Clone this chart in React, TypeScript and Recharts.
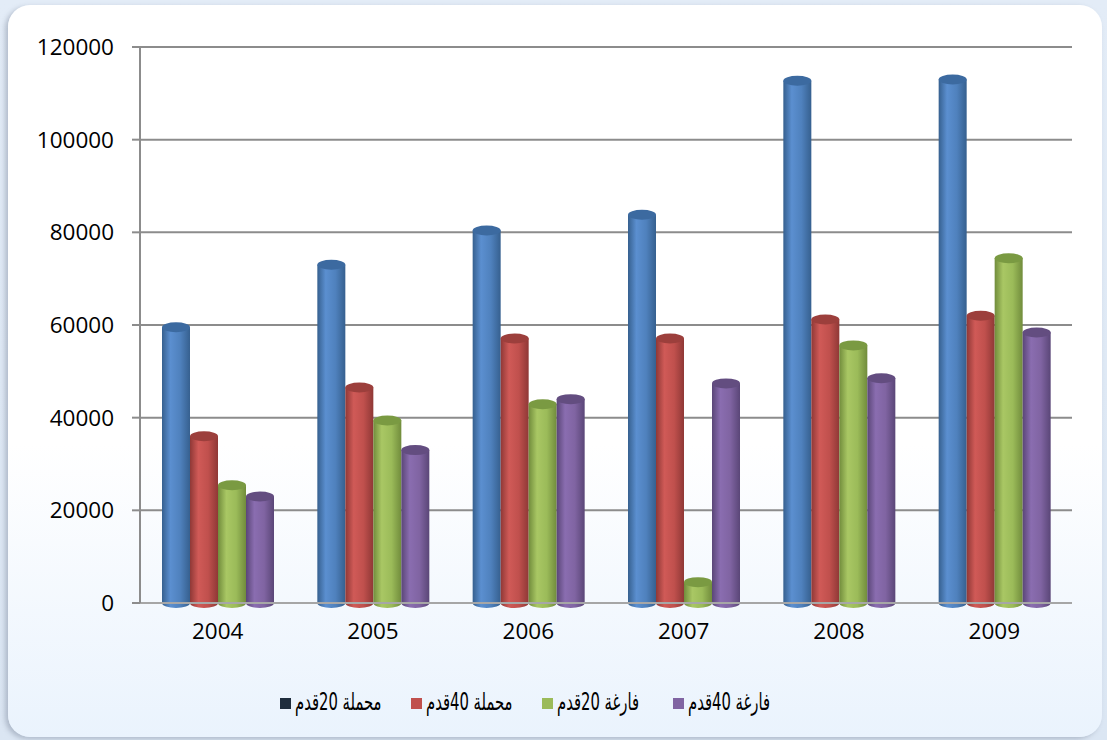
import React from 'react';
import { BarChart, Bar, XAxis, YAxis, CartesianGrid, Legend } from 'recharts';

const years = ['2004', '2005', '2006', '2007', '2008', '2009'];
const loaded20 = [59500, 73000, 80400, 83800, 112700, 113000];
const loaded40 = [36000, 46500, 57100, 57100, 61200, 62000];
const empty20 = [25400, 39400, 42900, 4500, 55600, 74400];
const empty40 = [23000, 33000, 44000, 47400, 48500, 58400];
const yTicks = [0, 20000, 40000, 60000, 80000, 100000, 120000];
const seriesOrder = ['loaded20', 'loaded40', 'empty20', 'empty40'];

const data = years.map((year, i) => ({
  year,
  loaded20: loaded20[i],
  loaded40: loaded40[i],
  empty20: empty20[i],
  empty40: empty40[i],
}));

// edge / mid / highlight / top
const palette: Record<string, string[]> = {
  blue: ['#36608f', '#4f81bd', '#5b8fd0', '#3c6aa0'],
  red: ['#8f3836', '#c0504d', '#d05a57', '#9c3f3c'],
  green: ['#718c3c', '#9bbb59', '#a9c764', '#7a9a42'],
  purple: ['#5a4677', '#8064a2', '#8a6db0', '#634d80'],
};

function makeCylinder(key: string) {
  return (props: any) => {
    const { x, y, width, height } = props;
    if (!height || height <= 0) return <g />;
    const c = palette[key];
    const ry = 5;
    const cx = x + width / 2;
    return (
      <g>
        <path
          d={`M${x},${y} L${x},${y + height} A${width / 2},${ry} 0 0 0 ${x + width},${y + height} L${x + width},${y} Z`}
          fill={`url(#cyl-${key})`}
        />
        <ellipse cx={cx} cy={y} rx={width / 2} ry={ry} fill={c[3]} />
      </g>
    );
  };
}

export default function App() {
  return (
    <div
      style={{
        position: 'absolute', left: 0, top: 0, width: 1107, height: 740,
        background: 'linear-gradient(180deg, #e3ecf7 0%, #dbe6f3 100%)', overflow: 'hidden',
      }}
    >
      <div
        style={{
          position: 'absolute', left: 8, top: 5, width: 1094, height: 732, borderRadius: 22,
          background: 'linear-gradient(180deg, #ffffff 0%, #ffffff 60%, #eaf3fd 100%)',
          boxShadow: '-3px 2px 5px rgba(120,130,150,0.45)',
        }}
      />
      <div style={{ position: 'absolute', left: 0, top: 0 }}>
        <BarChart
          width={1107}
          height={740}
          data={data}
          margin={{ top: 47, right: 35, bottom: 63, left: 0 }}
          barGap={0}
          barSize={28}
        >
          <defs>
            {Object.keys(palette).map((k) => (
              <linearGradient key={k} id={`cyl-${k}`} x1="0" y1="0" x2="1" y2="0">
                <stop offset="0%" stopColor={palette[k][0]} />
                <stop offset="30%" stopColor={palette[k][2]} />
                <stop offset="65%" stopColor={palette[k][1]} />
                <stop offset="100%" stopColor={palette[k][0]} />
              </linearGradient>
            ))}
          </defs>
          <CartesianGrid vertical={false} stroke="#8c8c8c" strokeWidth={2} />
          <XAxis
            dataKey="year"
            tick={{ fill: '#000', fontSize: 22.5, fontFamily: 'Open Sans, sans-serif' }}
            tickLine={false}
            axisLine={{ stroke: '#a6a6a6', strokeWidth: 2 }}
            tickMargin={14}
            height={50}
          />
          <YAxis
            domain={[0, 120000]}
            ticks={yTicks}
            width={140}
            tick={{ fill: '#000', fontSize: 22.5, fontFamily: 'Open Sans, sans-serif' }}
            tickLine={{ stroke: '#8c8c8c', strokeWidth: 2 }}
            tickSize={8}
            tickMargin={18}
            axisLine={{ stroke: '#8c8c8c', strokeWidth: 2 }}
          />
          <Legend
            verticalAlign="bottom"
            iconType="square"
            iconSize={11}
            itemSorter={(item: any) => seriesOrder.indexOf(item.dataKey)}
            wrapperStyle={{
              fontFamily: 'DejaVu Sans, sans-serif',
              fontSize: 20,
              top: 690,
              left: -12,
              width: 1107,
            }}
            formatter={(value: string) => (
              <span
                style={{
                  color: '#000', display: 'inline-block', width: 106, textAlign: 'left',
                  whiteSpace: 'nowrap', transform: 'scale(0.74, 1.2)', transformOrigin: 'left center',
                }}
              >
                {value}
              </span>
            )}
          />
          <Bar dataKey="loaded20" name="محملة 20قدم" fill="#1f2d3d" shape={makeCylinder('blue')} isAnimationActive={false} />
          <Bar dataKey="loaded40" name="محملة 40قدم" fill="#c0504d" shape={makeCylinder('red')} isAnimationActive={false} />
          <Bar dataKey="empty20" name="فارغة 20قدم" fill="#9bbb59" shape={makeCylinder('green')} isAnimationActive={false} />
          <Bar dataKey="empty40" name="فارغة 40قدم" fill="#8064a2" shape={makeCylinder('purple')} isAnimationActive={false} />
        </BarChart>
      </div>
    </div>
  );
}
